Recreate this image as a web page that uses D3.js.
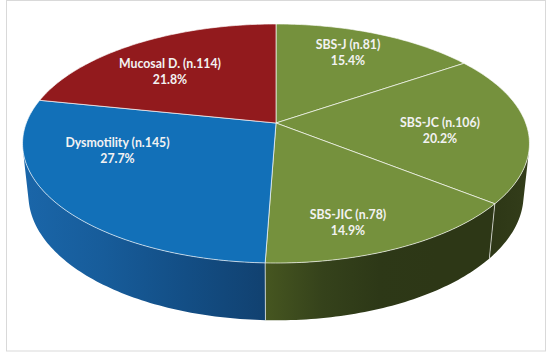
<!DOCTYPE html>
<html>
<head>
<meta charset="utf-8">
<script src="https://cdn.jsdelivr.net/npm/d3@7"></script>
<style>
  html, body { margin: 0; padding: 0; background: #fff; }
  svg { display: block; }
</style>
</head>
<body>
<svg id="chart" width="550" height="352"></svg>
<script>
const categories = ["SBS-J", "SBS-JC", "SBS-JIC", "Dysmotility", "Mucosal D."];
const counts = [81, 106, 78, 145, 114];
const shares = ["15.4%", "20.2%", "14.9%", "27.7%", "21.8%"];
const topColors = ["#75913d", "#75913d", "#75913d", "#1270b8", "#921a1d"];

// side wall shade of each slice, left to right across the picture
const sideShades = [
  ["#333d1a", "#333d1a"],
  ["#2d3716", "#333d1a"],
  ["#465620", "#35421b", "#2d3817", "#2d3716", "#2d3716"],
  ["#1a66a9", "#175c9a", "#134e85", "#114170"],
  ["#1a66a9", "#1a66a9"]
];

// text anchors, one per slice
const labelX = [348, 440, 348, 117.5, 170];
const labelY = [49, 127, 219, 147, 68];

const hubX = 276, hubY = 123;

// perspective view of the disc, fitted to the rim of the picture
const view = { a: 249.7, b: 116, k: 0.1715, m: 0.023, n: 52 };

function project(angle, radius, z) {
  const X = Math.sin(angle) * radius;
  const Y = -Math.cos(angle) * radius;
  const w = 1 - view.k * Y + view.m * z;
  return [hubX + view.a * X / w, hubY + (view.b * Y + view.n * z) / w];
}

const slices = d3.pie().sort(null)(counts);
const line = d3.line();
const step = Math.PI / 180;

function rimAngles(s) {
  const n = Math.max(2, Math.ceil((s.endAngle - s.startAngle) / step));
  return d3.range(n + 1).map(i => s.startAngle + (s.endAngle - s.startAngle) * i / n);
}

// a strip of wall faces us when its corners wind the front way round
function facesFront(a) {
  return d3.polygonArea([
    project(a, 1, 0), project(a + step / 10, 1, 0),
    project(a + step / 10, 1, 1), project(a, 1, 1)
  ]) > 0;
}

const svg = d3.select("#chart");

svg.append("rect")
  .attr("x", 6.5).attr("y", 0.5)
  .attr("width", 539).attr("height", 350.5)
  .attr("fill", "#fff")
  .attr("stroke", "#d9d9d9");

const defs = svg.append("defs");
const gradients = defs.selectAll("linearGradient")
  .data(sideShades)
  .join("linearGradient")
  .attr("id", (d, i) => `side-${i}`)
  .attr("x1", 0).attr("x2", 1).attr("y1", 0).attr("y2", 0);

gradients.selectAll("stop")
  .data(d => d)
  .join("stop")
  .attr("offset", (d, i, nodes) => i / (nodes.length - 1))
  .attr("stop-color", d => d);

// side wall first, the top face goes over it
svg.append("g").attr("class", "wall")
  .selectAll("path")
  .data(slices)
  .join("path")
  .attr("d", s => {
    const angles = rimAngles(s).filter(facesFront);
    if (angles.length < 2) return null;
    const upper = angles.map(a => project(a, 1, 0));
    const lower = angles.slice().reverse().map(a => project(a, 1, 1));
    return line([...upper, ...lower]) + "Z";
  })
  .attr("fill", (s, i) => `url(#side-${i})`);

// seams on the wall, only the ones facing us
svg.append("g").attr("class", "seams")
  .selectAll("line")
  .data(slices.filter(s => facesFront(s.endAngle)))
  .join("line")
  .attr("x1", s => project(s.endAngle, 1, 0)[0])
  .attr("y1", s => project(s.endAngle, 1, 0)[1])
  .attr("x2", s => project(s.endAngle, 1, 1)[0])
  .attr("y2", s => project(s.endAngle, 1, 1)[1])
  .attr("stroke", "#fff")
  .attr("stroke-opacity", 0.65)
  .attr("stroke-width", 1);

// top face
svg.append("g").attr("class", "top")
  .selectAll("path")
  .data(slices)
  .join("path")
  .attr("d", s => line([[hubX, hubY], ...rimAngles(s).map(a => project(a, 1, 0))]) + "Z")
  .attr("fill", (s, i) => topColors[i])
  .attr("stroke", "#fff")
  .attr("stroke-opacity", 0.65)
  .attr("stroke-width", 1)
  .attr("stroke-linejoin", "round");

const labels = svg.append("g").attr("class", "labels")
  .attr("font-family", "Lato, 'Open Sans', sans-serif")
  .attr("font-size", 12.3)
  .attr("font-weight", 700)
  .attr("fill", "#f2f2f2")
  .attr("text-anchor", "middle")
  .selectAll("text")
  .data(categories)
  .join("text")
  .attr("x", (d, i) => labelX[i])
  .attr("y", (d, i) => labelY[i]);

labels.append("tspan").text((d, i) => `${d} (n.${counts[i]})`);
labels.append("tspan")
  .attr("x", (d, i) => labelX[i])
  .attr("dy", 16)
  .text((d, i) => shares[i]);
</script>
</body>
</html>
